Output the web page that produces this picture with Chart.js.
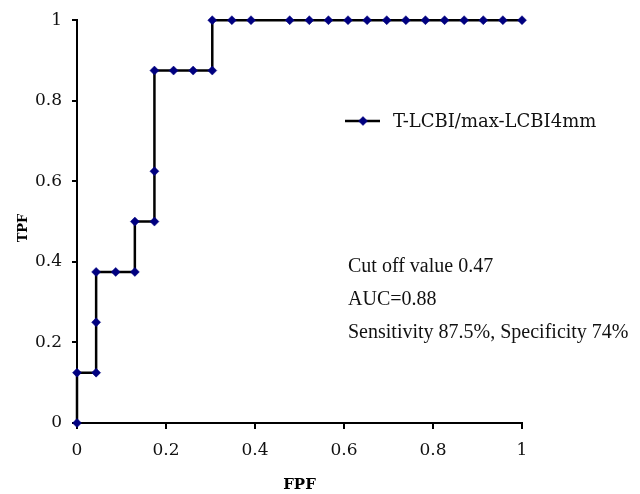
<!DOCTYPE html>
<html>
<head>
<meta charset="utf-8">
<title>ROC T-LCBI/max-LCBI4mm</title>
<script src="https://cdn.jsdelivr.net/npm/chart.js@4/dist/chart.umd.min.js"></script>
<style>
  html, body { margin: 0; padding: 0; background: #fff; }
  #wrap { width: 640px; height: 494px; position: relative; }
</style>
</head>
<body>
<div id="wrap"><canvas id="roc"></canvas></div>
<script>
// ROC curve points (FPF on x, TPF on y)
const fpfValues = [0, 0, 0.043, 0.043, 0.043, 0.087, 0.130, 0.130, 0.174, 0.174, 0.174, 0.217, 0.261, 0.304, 0.304,
  0.348, 0.391, 0.478, 0.522, 0.565, 0.609, 0.652, 0.696, 0.739, 0.783, 0.826, 0.870, 0.913, 0.957, 1];
const tpfValues = [0, 0.125, 0.125, 0.25, 0.375, 0.375, 0.375, 0.5, 0.5, 0.625, 0.875, 0.875, 0.875, 0.875, 1,
  1, 1, 1, 1, 1, 1, 1, 1, 1, 1, 1, 1, 1, 1, 1];

const seriesLabel = "T-LCBI/max-LCBI4mm";
const xTickLabels = ["0", "0.2", "0.4", "0.6", "0.8", "1"];
const yTickLabels = ["0", "0.2", "0.4", "0.6", "0.8", "1"];
const noteLines = ["Cut off value 0.47", "AUC=0.88", "Sensitivity 87.5%, Specificity 74%"];

const SERIF = "'DejaVu Serif', 'Liberation Serif', serif";
const TIMES = "'Liberation Serif', 'DejaVu Serif', serif";
const LINE_COLOR = "#000000";
const MARKER_COLOR = "#000080";

const points = fpfValues.map((x, i) => ({ x: x, y: tpfValues[i] }));

// legend, notes and the TPF title are drawn by hand, the sheet had them floating in the plot
const notesPlugin = {
  id: "notes",
  afterDraw(chart) {
    const ctx = chart.ctx;
    const ds = chart.data.datasets[0];
    ctx.save();
    // legend entry
    const ly = 121;
    ctx.strokeStyle = ds.borderColor;
    ctx.lineWidth = ds.borderWidth;
    ctx.beginPath();
    ctx.moveTo(345, ly);
    ctx.lineTo(380, ly);
    ctx.stroke();
    ctx.fillStyle = ds.pointBackgroundColor;
    ctx.strokeStyle = ds.pointBorderColor;
    ctx.lineWidth = ds.pointBorderWidth;
    Chart.helpers.drawPoint(ctx, { pointStyle: ds.pointStyle, radius: ds.pointRadius, borderWidth: ds.pointBorderWidth }, 363, ly);
    ctx.fillStyle = "#111";
    ctx.font = "18px " + SERIF;
    ctx.textBaseline = "middle";
    ctx.textAlign = "left";
    ctx.fillText(ds.label, 393, ly + 1);
    // cut-off / AUC notes
    ctx.font = "20px " + TIMES;
    noteLines.forEach((t, i) => ctx.fillText(t, 348, 267 + i * 33));
    // y axis title
    ctx.translate(24, 228);
    ctx.rotate(-Math.PI / 2);
    ctx.textAlign = "center";
    ctx.fillStyle = "#000";
    ctx.font = "bold 13px " + SERIF;
    ctx.fillText("TPF", 0, 0);
    ctx.restore();
  }
};

new Chart(document.getElementById("roc"), {
  type: "line",
  data: {
    datasets: [{
      label: seriesLabel,
      data: points,
      borderColor: LINE_COLOR,
      borderWidth: 2.5,
      tension: 0,
      fill: false,
      clip: false,
      pointStyle: "rectRot",
      pointRadius: 4.5,
      pointHoverRadius: 4.5,
      pointBackgroundColor: MARKER_COLOR,
      pointBorderColor: MARKER_COLOR,
      pointBorderWidth: 0.5
    }]
  },
  options: {
    responsive: true,
    maintainAspectRatio: false,
    animation: false,
    events: [],
    layout: { padding: { top: 19, right: 118, left: 0, bottom: 0 } },
    plugins: { legend: { display: false }, tooltip: { enabled: false } },
    scales: {
      x: {
        type: "linear",
        min: 0, max: 1,
        afterFit(scale) { scale.height = 71; },
        border: { color: "#000", width: 2 },
        grid: { drawOnChartArea: false, drawTicks: true, tickLength: 6, color: "#000", lineWidth: 2 },
        ticks: {
          stepSize: 0.2, padding: 11, color: "#111",
          font: { family: SERIF, size: 17 },
          callback: (v, i) => xTickLabels[i]
        },
        title: { display: true, text: "FPF", color: "#000", padding: { top: 0, bottom: 0 }, font: { family: SERIF, size: 15, weight: "bold" } }
      },
      y: {
        min: 0, max: 1,
        afterFit(scale) { scale.width = 77; },
        border: { color: "#000", width: 2 },
        grid: { drawOnChartArea: false, drawTicks: true, tickLength: 5, color: "#000", lineWidth: 2 },
        ticks: {
          stepSize: 0.2, padding: 10, color: "#111",
          font: { family: SERIF, size: 17 },
          callback: (v, i) => yTickLabels[i]
        }
      }
    }
  },
  plugins: [notesPlugin]
});
</script>
</body>
</html>
